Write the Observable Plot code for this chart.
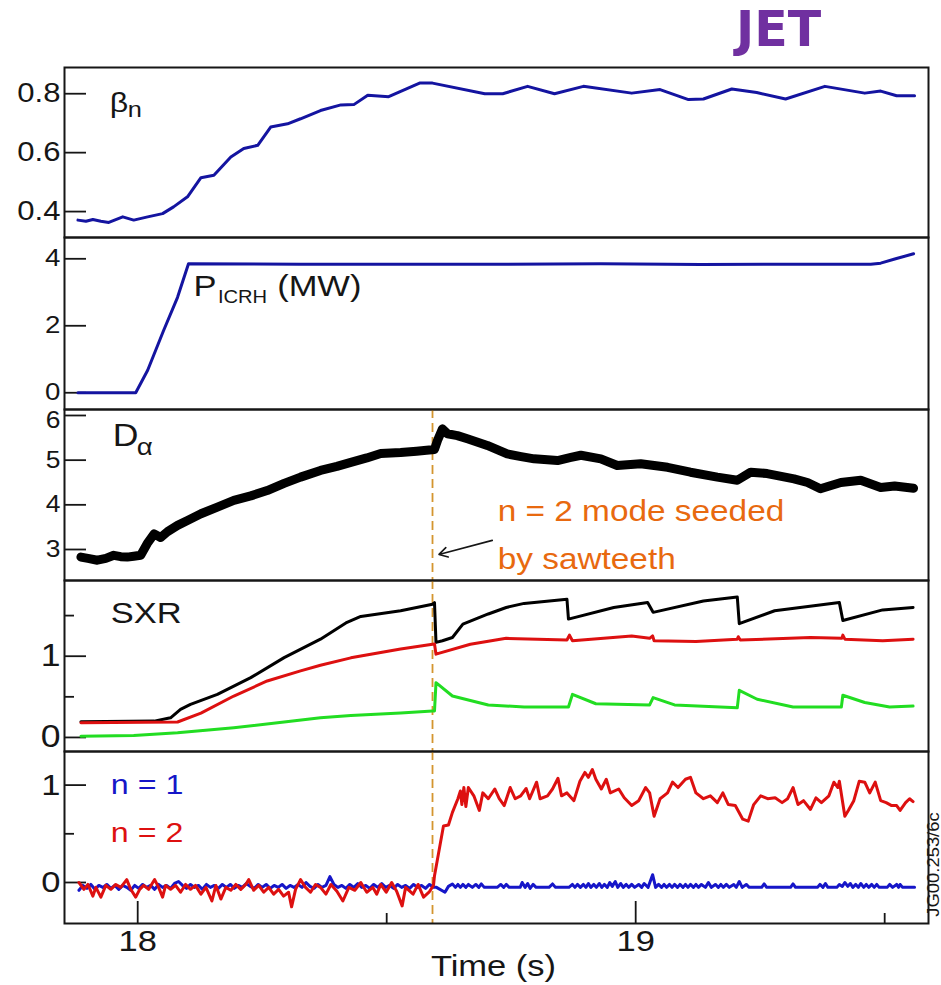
<!DOCTYPE html>
<html><head><meta charset="utf-8">
<script src="https://cdn.jsdelivr.net/npm/d3@7"></script>
<script src="https://cdn.jsdelivr.net/npm/@observablehq/plot@0.6"></script>
<style>
html,body{margin:0;padding:0;background:#fff;overflow:hidden}
#root{position:relative;width:941px;height:985px;font-family:'Liberation Sans',Arial,Helvetica,sans-serif}
#jet{position:absolute;left:736px;top:1px;font:700 49px 'DejaVu Sans',sans-serif;line-height:normal;color:#7030a0}
.panel{position:absolute;left:0}
</style></head><body>
<div id="root"><div id="jet">JET</div></div>
<script>
// ---------- data (time in s) ----------
const xTicksMajor = [18, 19];
const xTicksMinor = [18.5, 19.5];
const seedTime = [18.592];

// beta_n
const betaT = [17.880,17.896,17.910,17.926,17.942,17.970,17.992,18.020,18.050,18.072,18.100,18.127,18.153,18.187,18.213,18.241,18.267,18.301,18.327,18.367,18.408,18.434,18.462,18.504,18.566,18.592,18.697,18.733,18.783,18.837,18.895,18.992,19.049,19.106,19.136,19.193,19.243,19.301,19.380,19.460,19.492,19.524,19.560];
const betaV = [0.371,0.367,0.373,0.367,0.363,0.382,0.371,0.382,0.393,0.416,0.450,0.515,0.523,0.585,0.614,0.625,0.687,0.698,0.715,0.743,0.762,0.763,0.795,0.790,0.836,0.836,0.800,0.800,0.825,0.800,0.825,0.802,0.814,0.780,0.782,0.816,0.804,0.782,0.825,0.802,0.809,0.793,0.793];
const betaTicks = [0.4, 0.6, 0.8];

// P_ICRH (MW)
const pT = [17.880,17.996,18.020,18.052,18.080,18.102,18.327,18.729,18.930,19.131,19.331,19.472,19.492,19.522,19.558];
const pV = [0,0,0.67,1.86,2.85,3.85,3.84,3.84,3.85,3.83,3.84,3.84,3.87,4.0,4.15];
const pTicks = [0, 2, 4];

// D_alpha
const daT = [17.886,17.900,17.919,17.936,17.952,17.966,17.979,17.992,18.006,18.019,18.033,18.046,18.060,18.080,18.100,18.127,18.160,18.193,18.227,18.260,18.294,18.327,18.367,18.400,18.428,18.460,18.488,18.528,18.560,18.580,18.596,18.602,18.612,18.622,18.642,18.662,18.702,18.742,18.770,18.796,18.843,18.870,18.890,18.930,18.963,19.010,19.064,19.110,19.164,19.204,19.231,19.264,19.318,19.345,19.371,19.412,19.452,19.492,19.520,19.558];
const daV = [2.83,2.80,2.76,2.80,2.87,2.84,2.83,2.85,2.87,3.13,3.35,3.27,3.40,3.54,3.65,3.80,3.95,4.10,4.20,4.32,4.48,4.62,4.77,4.86,4.95,5.05,5.15,5.17,5.20,5.22,5.24,5.44,5.70,5.59,5.55,5.48,5.33,5.14,5.08,5.03,4.99,5.06,5.11,5.03,4.88,4.92,4.84,4.73,4.62,4.55,4.73,4.70,4.58,4.50,4.36,4.50,4.55,4.39,4.42,4.37];
const daTicks = [3, 4, 5, 6];
const daTopTick = [6];

// SXR channels
const sxrBlackT = [17.886,18.033,18.066,18.086,18.106,18.160,18.227,18.294,18.367,18.418,18.448,18.528,18.592,18.596,18.599,18.612,18.632,18.653,18.704,18.740,18.776,18.862,18.865,18.956,19.024,19.035,19.136,19.204,19.208,19.279,19.409,19.416,19.496,19.557];
const sxrBlackV = [0.193,0.201,0.242,0.346,0.407,0.53,0.736,0.983,1.21,1.41,1.49,1.56,1.64,1.66,1.17,1.19,1.23,1.395,1.52,1.60,1.65,1.70,1.457,1.60,1.66,1.54,1.68,1.73,1.40,1.56,1.66,1.44,1.57,1.60];
const sxrRedT = [17.886,18.080,18.127,18.193,18.260,18.327,18.367,18.428,18.528,18.592,18.596,18.599,18.668,18.740,18.862,18.867,18.873,18.992,19.028,19.034,19.037,19.121,19.204,19.206,19.210,19.351,19.414,19.416,19.420,19.496,19.557];
const sxrRedV = [0.18,0.19,0.30,0.51,0.695,0.82,0.889,0.98,1.09,1.148,1.15,1.025,1.148,1.22,1.20,1.26,1.19,1.25,1.22,1.25,1.19,1.18,1.21,1.24,1.20,1.23,1.22,1.26,1.21,1.19,1.21];
const sxrGreenT = [17.886,17.992,18.080,18.193,18.294,18.367,18.428,18.528,18.592,18.596,18.599,18.632,18.704,18.776,18.865,18.873,18.920,19.028,19.035,19.078,19.204,19.208,19.244,19.316,19.413,19.416,19.460,19.510,19.557];
const sxrGreenV = [0.016,0.025,0.057,0.12,0.19,0.242,0.27,0.30,0.325,0.325,0.674,0.51,0.40,0.374,0.374,0.53,0.415,0.40,0.49,0.40,0.365,0.58,0.47,0.374,0.374,0.52,0.43,0.374,0.386];
const sxrTicks = [0, 1];
const sxrMinor = [0.5, 1.5];

// mode amplitudes n = 1 and n = 2
const n1T = [17.882,17.890,17.898,17.906,17.914,17.922,17.930,17.938,17.946,17.954,
17.962,17.970,17.978,17.986,17.994,18.002,18.010,18.018,18.026,18.034,
18.042,18.050,18.058,18.066,18.074,18.082,18.090,18.098,18.106,18.114,
18.122,18.130,18.138,18.146,18.154,18.162,18.170,18.178,18.186,18.194,
18.202,18.210,18.218,18.226,18.234,18.242,18.250,18.258,18.266,18.274,
18.282,18.290,18.298,18.306,18.314,18.322,18.330,18.338,18.346,18.354,
18.362,18.370,18.378,18.386,18.394,18.402,18.410,18.418,18.426,18.434,
18.442,18.450,18.458,18.466,18.474,18.482,18.490,18.498,18.506,18.514,
18.522,18.530,18.538,18.546,18.554,18.562,18.570,18.578,18.586,18.594,
18.600,18.617,18.624,18.632,18.638,18.643,18.648,18.653,18.659,18.664,
18.672,18.679,18.685,18.690,18.696,18.722,18.729,18.735,18.740,18.746,
18.768,18.772,18.778,18.783,18.788,18.794,18.800,18.826,18.833,18.839,
18.866,18.873,18.878,18.883,18.889,18.895,18.900,18.905,18.910,18.916,
18.921,18.927,18.932,18.937,18.943,18.948,18.953,18.959,18.964,18.970,
18.975,18.981,18.986,18.992,18.998,19.006,19.012,19.017,19.025,19.034,
19.040,19.046,19.052,19.057,19.062,19.068,19.073,19.078,19.084,19.089,
19.095,19.100,19.105,19.110,19.116,19.121,19.126,19.132,19.140,19.146,
19.152,19.160,19.166,19.171,19.176,19.182,19.188,19.197,19.202,19.208,
19.214,19.222,19.228,19.253,19.258,19.263,19.311,19.316,19.321,19.365,
19.370,19.376,19.381,19.386,19.404,19.409,19.415,19.420,19.426,19.431,
19.436,19.442,19.447,19.452,19.458,19.463,19.468,19.474,19.479,19.484,
19.489,19.505,19.510,19.516,19.524,19.528,19.531,19.536,19.560];
const n1V = [-0.08,-0.03,-0.06,-0.02,-0.07,-0.03,-0.05,-0.02,-0.06,-0.03,
-0.07,-0.03,-0.05,-0.08,-0.03,-0.06,-0.02,-0.05,-0.03,-0.07,
-0.02,-0.05,-0.03,-0.06,-0.01,0.01,-0.03,-0.06,-0.02,-0.05,
-0.03,-0.07,-0.02,-0.05,-0.03,-0.06,-0.02,-0.05,-0.02,-0.06,
-0.03,-0.05,-0.01,-0.04,-0.06,-0.02,-0.05,-0.02,-0.06,-0.03,
-0.05,-0.02,-0.06,-0.03,-0.05,-0.02,-0.05,0.0,-0.04,-0.06,
-0.02,-0.05,-0.03,0.06,-0.02,-0.05,-0.03,-0.06,-0.02,-0.05,
-0.01,-0.05,-0.03,-0.06,-0.02,-0.05,-0.01,-0.05,-0.03,-0.06,
-0.02,-0.05,-0.03,-0.06,-0.02,-0.05,-0.03,-0.06,-0.02,-0.05,
-0.05,-0.10,-0.04,-0.015,-0.05,-0.02,-0.05,-0.02,-0.05,-0.02,
-0.05,-0.02,-0.05,-0.015,-0.05,-0.05,-0.02,-0.05,-0.02,-0.05,
-0.05,0.0,-0.05,-0.01,-0.06,-0.02,-0.05,-0.05,-0.015,-0.05,
-0.05,-0.02,-0.05,-0.02,-0.05,-0.02,-0.05,-0.01,-0.05,-0.02,
-0.05,-0.01,-0.05,-0.02,-0.05,0.0,-0.04,0.01,-0.05,-0.01,
-0.05,-0.02,-0.05,-0.02,-0.05,-0.02,-0.05,-0.01,-0.05,0.08,
-0.05,-0.02,-0.05,-0.02,-0.05,-0.02,-0.05,-0.02,-0.05,-0.02,
-0.05,-0.02,-0.05,-0.02,-0.05,-0.02,-0.05,-0.02,-0.05,0.0,
-0.05,-0.02,-0.05,-0.02,-0.05,-0.02,-0.05,-0.02,-0.05,0.01,
-0.05,-0.02,-0.05,-0.05,-0.015,-0.05,-0.05,-0.015,-0.05,-0.05,
-0.02,-0.05,-0.01,-0.05,-0.05,-0.02,-0.04,0.0,-0.04,-0.01,
-0.05,-0.02,-0.05,-0.01,-0.05,-0.02,-0.05,-0.02,-0.05,-0.02,
-0.05,-0.05,-0.02,-0.05,-0.02,-0.05,-0.02,-0.05,-0.05];
const n2T = [17.882,17.892,17.900,17.910,17.916,17.926,17.936,17.946,17.956,17.966,
17.978,17.986,17.996,18.004,18.012,18.022,18.034,18.042,18.050,18.056,
18.066,18.076,18.086,18.096,18.106,18.116,18.127,18.137,18.149,18.157,
18.167,18.177,18.187,18.197,18.207,18.217,18.223,18.233,18.243,18.253,
18.263,18.273,18.283,18.293,18.303,18.309,18.317,18.327,18.337,18.347,
18.357,18.367,18.378,18.388,18.400,18.412,18.424,18.436,18.448,18.460,
18.472,18.480,18.488,18.499,18.510,18.520,18.531,18.538,18.553,18.563,
18.574,18.585,18.594,18.596,18.614,18.624,18.632,18.643,18.648,18.651,
18.655,18.659,18.664,18.675,18.686,18.693,18.704,18.717,18.726,18.736,
18.748,18.758,18.769,18.780,18.787,18.801,18.808,18.823,18.833,18.844,
18.851,18.862,18.876,18.888,18.898,18.905,18.913,18.920,18.931,18.941,
18.949,18.966,18.977,18.992,19.006,19.020,19.028,19.037,19.049,19.064,
19.074,19.085,19.100,19.110,19.121,19.136,19.150,19.164,19.175,19.186,
19.200,19.215,19.226,19.237,19.251,19.265,19.280,19.294,19.305,19.316,
19.326,19.337,19.351,19.362,19.373,19.388,19.398,19.406,19.409,19.420,
19.427,19.438,19.449,19.460,19.470,19.481,19.492,19.503,19.514,19.524,
19.531,19.542,19.550,19.557];
const n2V = [0.00,-0.07,-0.02,-0.14,-0.05,-0.15,-0.03,-0.07,-0.02,-0.05,
0.03,-0.07,-0.15,-0.07,-0.03,-0.07,0.03,-0.05,-0.15,-0.03,
-0.07,-0.03,-0.10,-0.02,-0.07,-0.03,-0.12,-0.05,-0.19,-0.03,
-0.17,-0.05,-0.08,-0.02,-0.07,-0.02,0.03,-0.08,-0.03,-0.10,
-0.05,-0.12,-0.07,-0.14,-0.10,-0.25,-0.07,0.03,-0.05,-0.10,
-0.02,-0.05,-0.12,-0.02,-0.09,-0.19,-0.05,-0.08,0.00,-0.10,
-0.05,-0.12,-0.02,-0.10,0.00,-0.09,-0.24,-0.05,-0.12,-0.02,
-0.15,-0.10,-0.03,0.07,0.58,0.59,0.72,0.86,0.94,0.80,
0.975,0.78,0.975,0.89,0.74,0.92,0.86,0.96,0.86,0.79,
0.975,0.86,0.89,0.965,0.86,1.03,0.86,0.89,0.96,1.07,
0.89,0.92,0.84,1.04,1.13,1.08,1.16,1.06,0.96,1.06,
0.92,0.96,0.87,0.79,0.84,0.975,0.92,0.68,0.86,0.92,
1.03,0.975,1.06,1.08,0.92,0.86,0.89,0.82,0.92,0.80,
0.79,0.65,0.63,0.80,0.89,0.86,0.87,0.82,0.86,0.975,
0.80,0.84,0.75,0.87,0.82,0.89,1.03,0.975,1.04,0.68,
0.74,0.84,1.04,1.03,0.92,1.03,0.84,0.82,0.79,0.79,
0.74,0.82,0.86,0.83];
const modeTicks = [0, 1];
const modeMinor = [0.5];

// annotation anchors (data units of each panel)
const lblBeta = [{t: 17.944, v: 0.737, s: "β"}];
const lblBetaSub = [{t: 17.980, v: 0.721, s: "n"}];
const lblP = [{t: 18.112, v: 2.904, s: "P"}];
const lblPSub = [{t: 18.161, v: 2.675, s: "ICRH"}];
const lblPUnit = [{t: 18.280, v: 2.904, s: "(MW)"}];
const lblD = [{t: 17.950, v: 5.306, s: "D"}];
const lblDSub = [{t: 17.998, v: 5.105, s: "α"}];
const lblSeed = [{t: 18.723, v: 3.629, s: "n = 2 mode seeded"}, {t: 18.723, v: 2.570, s: "by sawteeth"}];
const seedArrow = [{t1: 18.712, v1: 3.204, t2: 18.605, v2: 2.890}];
const lblSxr = [{t: 17.946, v: 1.411, s: "SXR"}];
const lblN1 = [{t: 17.946, v: 0.911, s: "n = 1"}];
const lblN2 = [{t: 17.946, v: 0.411, s: "n = 2"}];

// ---------- drawing ----------
const xDomain = [17.853, 19.588];
const FONT = "'Liberation Sans', Arial, Helvetica, sans-serif";
const INK = "#161616";
const DARKBLUE = "#1414a0", BLUE = "#1616c8", RED = "#dd1010", GREEN = "#22dd22";
const ORANGE = "#e8690f", DASH = "#d4952f";
const LW = 3;
const root = document.getElementById("root");
const fmt = d => String(d);

const pts = (T, V) => T.map((t, i) => ({t, v: V[i]}));

function yTicks(major, minor) {
  return [
    Plot.axisY(major, {tickSize: -22, fill: "none", stroke: INK, strokeWidth: 1.8}),
    minor ? Plot.axisY(minor, {tickSize: -10, fill: "none", stroke: INK, strokeWidth: 1.8}) : null
  ];
}
function yLabels(values, fs, dy = 0) {
  return Plot.axisY(values, {tickSize: 0, tickPadding: 4, stroke: "none", fill: INK, fontSize: fs, label: null, tickFormat: fmt, dy});
}
function yAxes(major, minor, fs) {
  return [...yTicks(major, minor), yLabels(major, fs)];
}
function label(data, fs, fill = INK) {
  return Plot.text(data, {x: "t", y: "v", text: "s", fontSize: fs, fill, textAnchor: "start", lineAnchor: "bottom"});
}
function stretch(svg, k) {
  svg.querySelectorAll("text").forEach(t => {
    if (t.querySelector("tspan")) return;
    const L = t.getComputedTextLength();
    if (L > 0) { t.setAttribute("textLength", (L * k).toFixed(1)); t.setAttribute("lengthAdjust", "spacingAndGlyphs"); }
  });
}
const PAD = 4;
function addPanel(top, bottom, yDomain, marks, extraBottom = 0) {
  const mb = PAD + extraBottom;
  const svg = Plot.plot({
    width: 941, height: (bottom - top) + PAD + mb,
    marginLeft: 64, marginRight: 13, marginTop: PAD, marginBottom: mb,
    x: extraBottom ? {domain: xDomain} : {domain: xDomain, axis: null},
    y: {domain: yDomain},
    style: {background: "transparent", overflow: "visible", fontFamily: FONT, color: INK},
    marks
  });
  const div = document.createElement("div");
  div.className = "panel";
  div.style.top = (top - PAD) + "px";
  div.appendChild(svg);
  root.appendChild(div);
  stretch(svg, 1.15);
}
const frame = () => Plot.frame({stroke: INK, strokeWidth: 2});
const seedRule = () => Plot.ruleX(seedTime, {stroke: DASH, strokeWidth: 1.8, strokeDasharray: "9,5"});

// panel 1: beta_n
addPanel(67, 237, [0.312, 0.889], [
  ...yAxes(betaTicks, null, 27),
  Plot.line(pts(betaT, betaV), {x: "t", y: "v", stroke: DARKBLUE, strokeWidth: LW}),
  label(lblBeta, 28), label(lblBetaSub, 22),
  frame()
]);
// panel 2: P_ICRH
addPanel(237, 409, [-0.5, 4.636], [
  ...yAxes(pTicks, null, 24),
  Plot.line(pts(pT, pV), {x: "t", y: "v", stroke: DARKBLUE, strokeWidth: LW}),
  label(lblP, 30), label(lblPSub, 17.5), label(lblPUnit, 30),
  frame()
]);
// panel 3: D_alpha
addPanel(409, 580, [2.306, 6.134], [
  ...yTicks(daTicks, null),
  yLabels(daTicks.filter(d => !daTopTick.includes(d)), 23),
  yLabels(daTopTick, 23, 5),
  seedRule(),
  Plot.line(pts(daT, daV), {x: "t", y: "v", stroke: "#000", strokeWidth: 9, strokeLinejoin: "round"}),
  label(lblD, 31), label(lblDSub, 24),
  label(lblSeed, 29, ORANGE),
  Plot.arrow(seedArrow, {x1: "t1", y1: "v1", x2: "t2", y2: "v2", stroke: INK, strokeWidth: 1.6, headLength: 9}),
  frame()
]);
// panel 4: SXR
addPanel(580, 751, [-0.173, 1.932], [
  ...yAxes(sxrTicks, sxrMinor, 31),
  seedRule(),
  Plot.line(pts(sxrBlackT, sxrBlackV), {x: "t", y: "v", stroke: "#000", strokeWidth: LW}),
  Plot.line(pts(sxrRedT, sxrRedV), {x: "t", y: "v", stroke: RED, strokeWidth: LW}),
  Plot.line(pts(sxrGreenT, sxrGreenV), {x: "t", y: "v", stroke: GREEN, strokeWidth: LW}),
  label(lblSxr, 30),
  frame()
]);
// panel 5: mode amplitudes + time axis
addPanel(751, 923, [-0.421, 1.345], [
  ...yAxes(modeTicks, modeMinor, 30),
  Plot.axisX(xTicksMajor, {tickSize: -22, fill: "none", stroke: INK, strokeWidth: 1.8}),
  Plot.axisX(xTicksMinor, {tickSize: -10, fill: "none", stroke: INK, strokeWidth: 1.8}),
  Plot.axisX(xTicksMajor, {tickSize: 0, tickPadding: 6, stroke: "none", fill: INK, fontSize: 30, label: null, tickFormat: fmt}),
  Plot.text(["Time (s)"], {text: d => d, frameAnchor: "bottom", dy: 52, dx: -3, fontSize: 30, fill: INK, lineAnchor: "bottom"}),
  Plot.text(["JG00.253/6c"], {text: d => d, frameAnchor: "right", rotate: -90, dx: 10, dy: 27, fontSize: 16, fill: INK, textAnchor: "middle", lineAnchor: "bottom"}),
  seedRule(),
  Plot.line(pts(n1T, n1V), {x: "t", y: "v", stroke: BLUE, strokeWidth: LW}),
  Plot.line(pts(n2T, n2V), {x: "t", y: "v", stroke: RED, strokeWidth: LW}),
  label(lblN1, 28, BLUE), label(lblN2, 28, RED),
  frame()
], 62);
</script></body></html>
